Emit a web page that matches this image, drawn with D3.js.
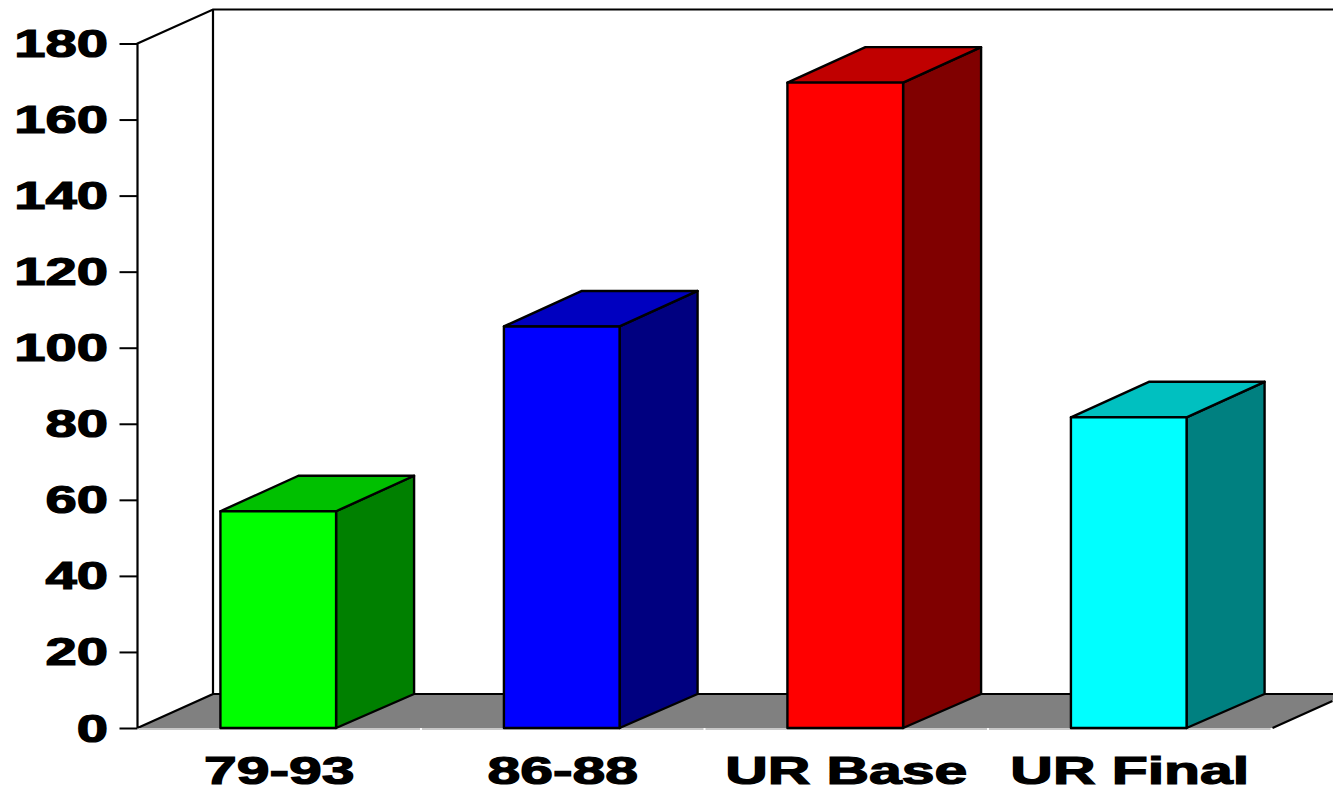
<!DOCTYPE html>
<html>
<head>
<meta charset="utf-8">
<style>
html, body { margin: 0; padding: 0; background: #fff; overflow: hidden; }
svg { display: block; }
text { font-family: "Liberation Sans", Arial, sans-serif; font-weight: 700; fill: #000; stroke: #000; stroke-width: 1.2px; }
</style>
</head>
<body>
<script src="https://cdn.jsdelivr.net/npm/d3@7"></script>
<script>
// values
const categories = ['79-93', '86-88', 'UR Base', 'UR Final']
const values = [57, 105.6, 169.7, 81.7]
const frontColors = ['#00ff00', '#0000ff', '#ff0000', '#00ffff']
const topColors = ['#00c000', '#0000c0', '#c00000', '#00c0c0']
const sideColors = ['#008000', '#000080', '#800000', '#008080']
const yTicks = [0, 20, 40, 60, 80, 100, 120, 140, 160, 180]

const width = 1333
const height = 789
const wallDepthX = 75.5
const barDepthX = 78
const depthY = 34
const barTopDepthY = 35.5

const svg = d3.select('body').append('svg')
    .attr('width', width)
    .attr('height', height)

// Scales
const xScale = d3.scaleBand()
    .domain(categories)
    .range([136.5, 1270.5])
    .paddingInner(0.592)
    .paddingOuter(0.296)

const yScale = d3.scaleLinear()
    .domain([0, 180])
    .range([728, 43.5])

const y0 = yScale(0)
const yTop = yScale(180)
const xLeft = 137.5
const xRight = 1271.5

// Floor
svg.append('path')
    .attr('d', `M${xLeft},${y0} L${xLeft + wallDepthX},${y0 - depthY} H${xRight + wallDepthX} L${xRight},${y0} Z`)
    .style('fill', '#808080')

// Back wall and floor outlines
const outline = d3.path()
outline.moveTo(xLeft, y0)
outline.lineTo(xLeft, yTop)
outline.lineTo(xLeft + wallDepthX, yTop - depthY)
outline.lineTo(width, yTop - depthY)
outline.moveTo(xLeft + wallDepthX, yTop - depthY)
outline.lineTo(xLeft + wallDepthX, y0 - depthY)
outline.lineTo(xLeft, y0)
outline.moveTo(xLeft + wallDepthX, y0 - depthY)
outline.lineTo(width, y0 - depthY)
outline.moveTo(xRight + 1, y0)
outline.lineTo(xRight + 61, y0 - 27)
svg.append('path')
    .attr('d', outline.toString())
    .style('fill', 'none')
    .style('stroke', '#000')
    .style('stroke-width', 2.2)

// Light baseline with a gap at each category boundary
const step = xScale.step()
svg.selectAll('.baseline')
    .data(categories)
    .join('line')
    .attr('class', 'baseline')
    .attr('x1', (d, i) => xLeft + i * step + 1)
    .attr('x2', (d, i) => xLeft + (i + 1) * step - 1)
    .attr('y1', y0 + 1)
    .attr('y2', y0 + 1)
    .style('stroke', '#c8c8c8')
    .style('stroke-width', 2)

// Bars: side, top, then front
const bars = svg.selectAll('.bar')
    .data(categories)
    .join('g')
    .attr('class', 'bar')

const barStroke = sel => sel
    .style('stroke', '#000')
    .style('stroke-width', 2.4)
    .style('stroke-linejoin', 'round')

bars.append('path')
    .attr('d', (d, i) => {
        const x = xScale(d) + xScale.bandwidth()
        const y = yScale(values[i])
        return `M${x},${y} L${x + barDepthX},${y - barTopDepthY} V${y0 - depthY} L${x},${y0} Z`
    })
    .style('fill', (d, i) => sideColors[i])
    .call(barStroke)

bars.append('path')
    .attr('d', (d, i) => {
        const x = xScale(d)
        const w = xScale.bandwidth()
        const y = yScale(values[i])
        return `M${x},${y} L${x + barDepthX},${y - barTopDepthY} H${x + w + barDepthX} L${x + w},${y} Z`
    })
    .style('fill', (d, i) => topColors[i])
    .call(barStroke)

bars.append('rect')
    .attr('x', d => xScale(d))
    .attr('y', (d, i) => yScale(values[i]))
    .attr('width', xScale.bandwidth())
    .attr('height', (d, i) => y0 - yScale(values[i]))
    .style('fill', (d, i) => frontColors[i])
    .call(barStroke)

// Y axis
const yAxis = d3.axisLeft(yScale)
    .tickValues(yTicks)
    .tickSize(18)
const yAxisG = svg.append('g')
    .attr('transform', `translate(${xLeft},0)`)
    .call(yAxis)
yAxisG.select('.domain').remove()
yAxisG.selectAll('.tick line')
    .attr('y1', 0)
    .attr('y2', 0)
    .style('stroke', '#000')
    .style('stroke-width', 2)

// Labels are stretched wide to get the heavy extended look
yAxisG.selectAll('.tick text').remove()
yAxisG.selectAll('.tick').append('text')
    .attr('text-anchor', 'end')
    .attr('transform', 'translate(-29.5,13) scale(1.48,1)')
    .style('font-size', '38px')
    .text(d => d)

svg.selectAll('.cat')
    .data(categories)
    .join('text')
    .attr('class', 'cat')
    .attr('text-anchor', 'middle')
    .attr('transform', d => `translate(${xScale(d) + xScale.bandwidth() / 2 + 1},784) scale(1.55,1)`)
    .style('font-size', '38px')
    .text(d => d)
</script>
</body>
</html>
